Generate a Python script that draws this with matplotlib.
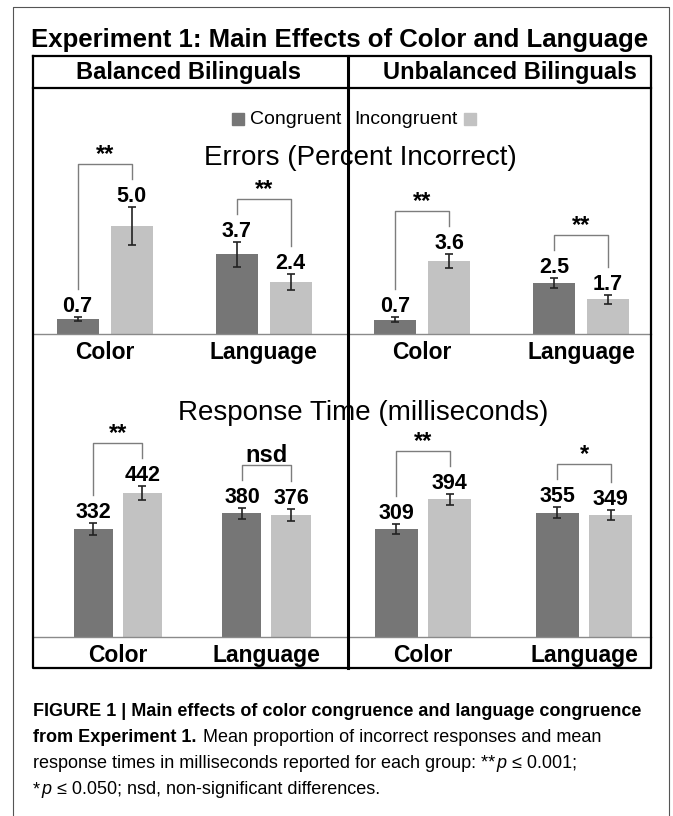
import matplotlib
matplotlib.use("Agg")
import numpy as np
import matplotlib.pyplot as plt
from matplotlib.lines import Line2D
from matplotlib.patches import Rectangle

plt.rcParams["font.family"] = ["Liberation Sans", "DejaVu Sans"]

W, H = 673, 816

groups = ["Balanced Bilinguals", "Unbalanced Bilinguals"]
categories = ["Color", "Language"]
conditions = ["Congruent", "Incongruent"]

# errors (percent incorrect), order: Color, Language
err_bal_cong = [0.7, 3.7]
err_bal_incong = [5.0, 2.4]
err_bal_cong_se = [0.11, 0.58]
err_bal_incong_se = [0.88, 0.38]
err_unbal_cong = [0.7, 2.5]
err_unbal_incong = [3.6, 1.7]
err_unbal_cong_se = [0.12, 0.25]
err_unbal_incong_se = [0.34, 0.20]

# response time (ms)
rt_bal_cong = [332, 380]
rt_bal_incong = [442, 376]
rt_bal_cong_se = [18, 18]
rt_bal_incong_se = [21, 18]
rt_unbal_cong = [309, 355]
rt_unbal_incong = [394, 349]
rt_unbal_cong_se = [14, 16]
rt_unbal_incong_se = [16, 14]

err_bal_sig = ["**", "**"]
err_unbal_sig = ["**", "**"]
rt_bal_sig = ["**", "nsd"]
rt_unbal_sig = ["**", "*"]

DARK = "#767676"
LIGHT = "#c2c2c2"
BRACKET = "#7d7d7d"

fig = plt.figure(figsize=(W / 100, H / 100), dpi=100)
renderer = fig.canvas.get_renderer()


def fx(px):
    return px / W


def fy(py):
    return 1 - py / H


def fline(xs, ys, **kw):
    fig.add_artist(Line2D([fx(v) for v in xs], [fy(v) for v in ys],
                          transform=fig.transFigure, **kw))


def panel(rect, xlim, ylim, width, shift, cong, incong, cong_se, incong_se, sig, fmt):
    ax = fig.add_axes(rect)
    ax.patch.set_alpha(0)
    x = np.arange(len(categories))
    ekw = dict(ecolor="#222222", elinewidth=1.2, capsize=2.8, capthick=1.2)
    ax.bar(x - shift, cong, width, color=DARK, yerr=cong_se, error_kw=ekw)
    ax.bar(x + shift, incong, width, color=LIGHT, yerr=incong_se, error_kw=ekw)
    ax.set_xlim(xlim)
    ax.set_ylim(ylim)
    for side in ["top", "left", "right"]:
        ax.spines[side].set_visible(False)
    ax.spines["bottom"].set_color("#8a8a8a")
    ax.spines["bottom"].set_linewidth(1)
    ax.set_yticks([])
    ax.set_xticks(x, categories, fontsize=16.5, fontweight="bold")
    ax.tick_params(axis="x", length=0, pad=5)

    tr = ax.transData
    inv = tr.inverted()
    for i in range(len(categories)):
        xl, xr = x[i] - shift, x[i] + shift
        tops = []
        for xb, v, se in [(xl, cong[i], cong_se[i]), (xr, incong[i], incong_se[i])]:
            ax.annotate(fmt.format(v), (xb, v + se), xytext=(0, 5),
                        textcoords="offset pixels", ha="center", va="baseline",
                        fontsize=15.5, fontweight="bold")
            tops.append(tr.transform((xb, v + se)))
        pl = (tops[0][0], tops[0][1] + 28)
        pr = (tops[1][0], tops[1][1] + 28)
        ytop = max(pl[1], pr[1]) + 15
        pts = inv.transform([pl, (pl[0], ytop), (pr[0], ytop), pr])
        ax.plot(pts[:, 0], pts[:, 1], color=BRACKET, lw=1, clip_on=False)
        ax.annotate(sig[i], ((pts[1, 0] + pts[2, 0]) / 2, pts[1, 1]), xytext=(0, 3),
                    textcoords="offset pixels", ha="center", va="baseline",
                    fontsize=17, fontweight="bold")
    return ax


# panels: left 33..348, right 348..651
panel([fx(33), fy(334), (348 - 33) / W, (334 - 140) / H], (-0.45, 1.53), (0, 9.0),
      0.264, 0.17, err_bal_cong, err_bal_incong, err_bal_cong_se, err_bal_incong_se,
      err_bal_sig, "{:.1f}")
panel([fx(348), fy(334), (651 - 348) / W, (334 - 140) / H], (-0.465, 1.44), (0, 9.55),
      0.264, 0.17, err_unbal_cong, err_unbal_incong, err_unbal_cong_se, err_unbal_incong_se,
      err_unbal_sig, "{:.1f}")
panel([fx(33), fy(637), (348 - 33) / W, (637 - 440) / H], (-0.572, 1.549), (0, 606),
      0.263, 0.165, rt_bal_cong, rt_bal_incong, rt_bal_cong_se, rt_bal_incong_se,
      rt_bal_sig, "{:.0f}")
panel([fx(348), fy(637), (651 - 348) / W, (637 - 440) / H], (-0.466, 1.416), (0, 563),
      0.267, 0.165, rt_unbal_cong, rt_unbal_incong, rt_unbal_cong_se, rt_unbal_incong_se,
      rt_unbal_sig, "{:.0f}")

# frames
fline([13, 13, 669, 669], [816, 7, 7, 816], color="#555555", lw=0.8)
fline([33, 651, 651, 33, 33], [56, 56, 668, 668, 56], color="black", lw=1.6)
fline([33, 651], [88, 88], color="black", lw=1.6)
fline([348, 348], [56, 668], color="black", lw=2.2)

fig.text(fx(340), fy(40), "Experiment 1: Main Effects of Color and Language",
         ha="center", va="center", fontsize=18.5, fontweight="bold")
fig.text(fx(188), fy(72), groups[0], ha="center", va="center", fontsize=17,
         fontweight="bold")
fig.text(fx(510), fy(72), groups[1], ha="center", va="center", fontsize=17,
         fontweight="bold")

# legend split across the divider
t1 = fig.text(fx(341), fy(119), conditions[0], ha="right", va="center", fontsize=14)
t2 = fig.text(fx(354), fy(119), conditions[1], ha="left", va="center", fontsize=14)
b1 = t1.get_window_extent(renderer)
b2 = t2.get_window_extent(renderer)
sq = 12
fig.patches.append(Rectangle(((b1.x0 - 6 - sq) / W, fy(125)), sq / W, sq / H, color=DARK,
                             transform=fig.transFigure, figure=fig))
fig.patches.append(Rectangle(((b2.x1 + 7) / W, fy(125)), sq / W, sq / H, color=LIGHT,
                             transform=fig.transFigure, figure=fig))

fig.text(fx(360), fy(158), "Errors (Percent Incorrect)", ha="center", va="center",
         fontsize=20)
fig.text(fx(363), fy(413), "Response Time (milliseconds)", ha="center", va="center",
         fontsize=20)

# caption
CAP = 13
B = dict(fontweight="bold")
R = dict()
I = dict(fontstyle="italic")
caption = [
    [("FIGURE 1 | Main effects of color congruence and language congruence", B)],
    [("from Experiment 1.", B), (" Mean proportion of incorrect responses and mean", R)],
    [("response times in milliseconds reported for each group: **", R), ("p", I),
     (" \u2264 0.001;", R)],
    [("*", R), ("p", I), (" \u2264 0.050; nsd, non-significant differences.", R)],
]
for k, pieces in enumerate(caption):
    xpos = 33
    ypos = 716 + 26 * k
    for s, st in pieces:
        t = fig.text(fx(xpos), fy(ypos), s, ha="left", va="baseline", fontsize=CAP, **st)
        xpos = t.get_window_extent(renderer).x1 + 1

fig.savefig("out.png", dpi=100)
